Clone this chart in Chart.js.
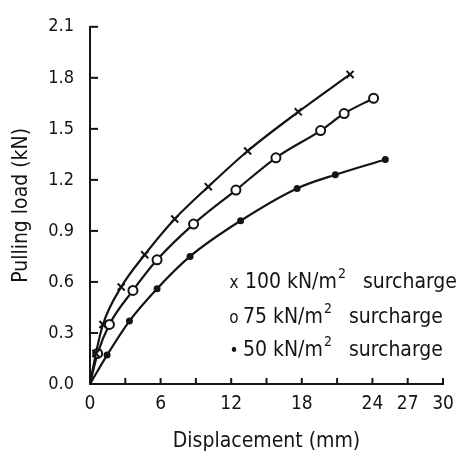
<!DOCTYPE html>
<html>
<head>
<meta charset="utf-8">
<script src="https://cdn.jsdelivr.net/npm/chart.js@4/dist/chart.umd.min.js"></script>
<style>
  html, body { margin: 0; padding: 0; background: #fff; }
  #wrap { width: 466px; height: 455px; }
</style>
</head>
<body>
<div id="wrap"><canvas id="mycanvas" width="466" height="455"></canvas></div>
<script>
const FONT = '"DejaVu Sans Condensed", "DejaVu Sans", sans-serif';
const INK = "#141414";

// x / y values (mm, kN)
const disp100 = [0, 0.5, 1.1, 2.65, 4.65, 7.2, 10.05, 13.4, 17.7, 22.1];
const load100 = [0, 0.18, 0.35, 0.57, 0.76, 0.97, 1.16, 1.37, 1.6, 1.82];
const disp75 = [0, 0.65, 1.65, 3.65, 5.7, 8.8, 12.4, 15.8, 19.6, 21.6, 24.1];
const load75 = [0, 0.18, 0.35, 0.55, 0.73, 0.94, 1.14, 1.33, 1.49, 1.59, 1.68];
const disp50 = [0, 1.45, 3.35, 5.7, 8.5, 12.8, 17.6, 20.85, 25.1];
const load50 = [0, 0.17, 0.37, 0.56, 0.75, 0.96, 1.15, 1.23, 1.32];

const xLabelled = [0, 6, 12, 18, 24, 27, 30];
const seriesNames = ["100", "75", "50"];
const seriesMarks = ["x", "o", "\u2022"];

function toPoints(xs, ys) {
    return xs.map((x, i) => ({ x: x, y: ys[i] }));
}
// no marker at the origin
function radii(xs, r) {
    return xs.map((x, i) => (i === 0 ? 0 : r));
}

const ctx = document.getElementById("mycanvas").getContext("2d");

const inwardTicks = {
    id: "inwardTicks",
    afterDraw(chart) {
        const c = chart.ctx;
        const xs = chart.scales.x, ys = chart.scales.y;
        c.save();
        c.strokeStyle = INK;
        c.lineWidth = 2;
        xs.ticks.forEach(t => {
            const px = xs.getPixelForValue(t.value);
            c.beginPath();
            c.moveTo(px, ys.bottom);
            c.lineTo(px, ys.bottom - 6);
            c.stroke();
        });
        ys.ticks.forEach(t => {
            const py = ys.getPixelForValue(t.value);
            c.beginPath();
            c.moveTo(xs.left, py);
            c.lineTo(xs.left + 8, py);
            c.stroke();
        });
        c.restore();
    }
};

const textLegend = {
    id: "textLegend",
    afterDraw(chart) {
        const c = chart.ctx;
        const rows = [283, 318, 351];
        c.save();
        c.fillStyle = INK;
        c.textBaseline = "middle";
        rows.forEach((y, i) => {
            c.font = "17px " + FONT;
            c.textAlign = "center";
            c.fillText(seriesMarks[i], 234, y + 1);
            c.textAlign = "left";
            c.font = "21px " + FONT;
            let x = i === 0 ? 245 : 243;
            const head = seriesNames[i] + " kN/m";
            c.fillText(head, x, y);
            x += c.measureText(head).width + 1;
            c.font = "14px " + FONT;
            c.fillText("2", x, y - 9);
            x += c.measureText("2").width + 17;
            c.font = "21px " + FONT;
            c.fillText("surcharge", x, y);
        });
        c.restore();
    }
};

const lineStyle = {
    borderColor: INK,
    borderWidth: 2.2,
    pointBorderColor: INK,
    pointBorderWidth: 2,
    showLine: true,
    fill: false,
    cubicInterpolationMode: "monotone"
};

var chart = new Chart(ctx, {
    type: "scatter",
    data: {
        datasets: [
            Object.assign({
                label: "100 kN/m² surcharge",
                data: toPoints(disp100, load100),
                pointStyle: "crossRot",
                pointRadius: radii(disp100, 5),
                backgroundColor: INK
            }, lineStyle),
            Object.assign({
                label: "75 kN/m² surcharge",
                data: toPoints(disp75, load75),
                pointStyle: "circle",
                pointRadius: radii(disp75, 4.5),
                pointBackgroundColor: "#fff",
                backgroundColor: "#fff"
            }, lineStyle),
            Object.assign({
                label: "50 kN/m² surcharge",
                data: toPoints(disp50, load50),
                pointStyle: "circle",
                pointRadius: radii(disp50, 2.5),
                pointBackgroundColor: INK,
                backgroundColor: INK
            }, lineStyle)
        ]
    },
    options: {
        responsive: false,
        animation: false,
        layout: {
            padding: { top: 17, left: 0, bottom: 0, right: 23 }
        },
        scales: {
            x: {
                type: "linear",
                min: 0,
                max: 30,
                afterFit(scale) { scale.height = 71; },
                border: { display: true, color: INK, width: 2 },
                grid: { display: false, drawTicks: false },
                ticks: {
                    stepSize: 3,
                    autoSkip: false,
                    maxRotation: 0,
                    padding: 9,
                    color: INK,
                    font: { family: FONT, size: 19 },
                    callback: v => (xLabelled.includes(Math.round(v)) ? String(Math.round(v)) : "")
                },
                title: {
                    display: true,
                    text: "Displacement (mm)",
                    color: INK,
                    font: { family: FONT, size: 21 },
                    padding: { top: 0, bottom: 1 }
                }
            },
            y: {
                type: "linear",
                min: 0,
                max: 2.1,
                afterFit(scale) { scale.width = 90; },
                border: { display: true, color: INK, width: 2 },
                grid: { display: false, drawTicks: false },
                ticks: {
                    stepSize: 0.3,
                    padding: 16,
                    color: INK,
                    font: { family: FONT, size: 18 },
                    callback: v => Number(v).toFixed(1)
                },
                title: {
                    display: true,
                    text: "Pulling load (kN)",
                    color: INK,
                    font: { family: FONT, size: 21 },
                    padding: { top: 9, bottom: 0 }
                }
            }
        },
        plugins: {
            legend: { display: false },
            tooltip: { enabled: false }
        }
    },
    plugins: [inwardTicks, textLegend]
});
</script>
</body>
</html>
